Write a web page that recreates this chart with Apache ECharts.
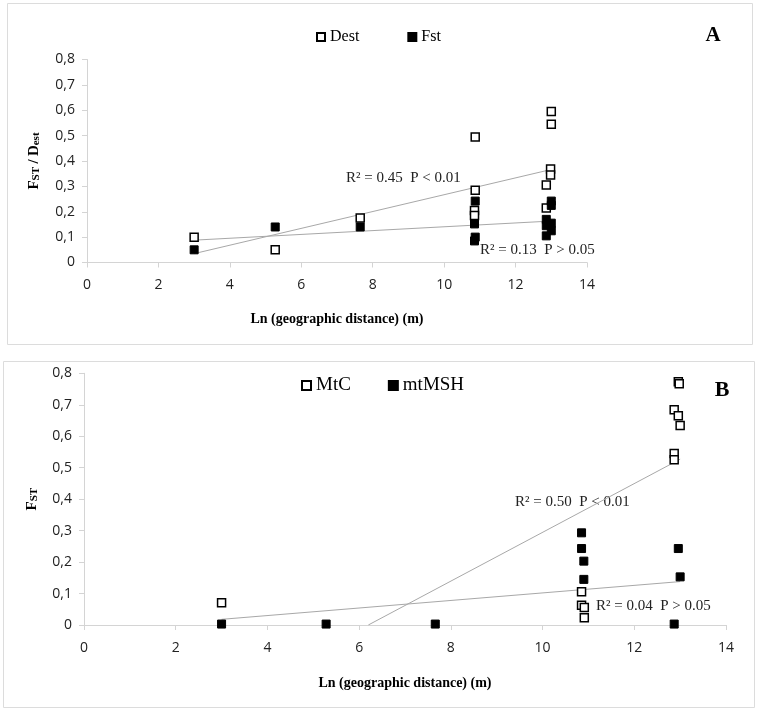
<!DOCTYPE html>
<html>
<head>
<meta charset="utf-8">
<script src="https://cdn.jsdelivr.net/npm/echarts@6/dist/echarts.min.js"></script>
<style>
html,body{margin:0;padding:0;background:#fff;}
#chart{width:760px;height:711px;}
</style>
</head>
<body>
<div id="chart"></div>
<script>
// ---------- Data ----------
// Panel A
const destA = [[3.0,0.10],[5.27,0.05],[7.65,0.175],[10.87,0.495],[10.87,0.285],[10.85,0.205],[10.85,0.185],
  [13.0,0.595],[13.0,0.545],[12.98,0.368],[12.98,0.345],[12.86,0.305],[12.86,0.215]];
const fstA = [[3.0,0.05],[5.27,0.14],[7.65,0.14],[10.87,0.242],[10.85,0.152],[10.87,0.10],[10.85,0.085],
  [13.0,0.242],[13.0,0.225],[12.86,0.17],[12.86,0.145],[12.86,0.105],[13.0,0.155],[13.0,0.125]];
const trendDestA = [[3.0,0.035],[12.95,0.365]];
const trendFstA = [[3.0,0.088],[12.95,0.163]];
// Panel B
const mtcB = [[3.0,0.071],[10.85,0.106],[10.85,0.063],[10.91,0.056],[10.91,0.023],
  [12.87,0.684],[12.87,0.545],[12.87,0.525],[12.96,0.773],[12.98,0.767],[12.96,0.665],[13.0,0.634]];
const mshB = [[3.0,0.003],[5.28,0.003],[7.66,0.003],[10.85,0.293],[10.85,0.243],[10.9,0.203],[10.9,0.145],
  [12.87,0.003],[12.96,0.243],[13.0,0.153]];
const trendMtcB = [[6.2,0],[13.0,0.527]];
const trendMshB = [[3.0,0.018],[13.0,0.138]];
// Axis ticks
const xTicks = {min:0, max:14, interval:2};
const yTicks = {min:0, max:0.8, interval:0.1};
// Annotations
const annA = ['R² = 0.45  P < 0.01', 'R² = 0.13  P > 0.05'];
const annB = ['R² = 0.50  P < 0.01', 'R² = 0.04  P > 0.05'];

// ---------- Chart ----------
const chart = echarts.init(document.getElementById('chart'), null, {renderer:'canvas'});
const serif = 'Liberation Serif, Times New Roman, serif';
const sans = 'Open Sans, sans-serif';
const axisGray = '#d4d4d4';
const trendGray = '#a8a8a8';

function xAxisCfg(gridIndex, gap){
  return {
    type:'value', gridIndex, min:xTicks.min, max:xTicks.max, interval:xTicks.interval,
    splitLine:{show:false},
    axisLine:{show:true, lineStyle:{color:axisGray, width:1}},
    axisTick:{show:true, length:5, lineStyle:{color:axisGray}},
    axisLabel:{margin:16, fontFamily:sans, fontSize:14, color:'#222'},
    name:'Ln (geographic distance) (m)', nameLocation:'middle', nameGap:gap,
    nameTextStyle:{fontFamily:serif, fontWeight:'bold', fontSize:14, color:'#000'}
  };
}
const richName = {
  a:{fontFamily:serif, fontWeight:'bold', fontSize:15, color:'#000', verticalAlign:'bottom', lineHeight:17},
  b:{fontFamily:serif, fontWeight:'bold', fontSize:11, color:'#000', verticalAlign:'bottom', lineHeight:17}
};
function yAxisCfg(gridIndex, name, gap){
  return {
    type:'value', gridIndex, min:yTicks.min, max:yTicks.max, interval:yTicks.interval,
    splitLine:{show:false},
    axisLine:{show:true, lineStyle:{color:axisGray, width:1}},
    axisTick:{show:true, length:5, lineStyle:{color:axisGray}},
    axisLabel:{margin:12, fontFamily:sans, fontSize:14, color:'#222',
      formatter:v => (Math.round(v*10)/10).toString().replace('.', ',')},
    name, nameLocation:'middle', nameGap:gap, nameRotate:90,
    nameTextStyle:{rich:richName}
  };
}
const openStyle = {color:'#fff', borderColor:'#000', borderWidth:1.5, opacity:1};
const fillStyle = {color:'#000', borderColor:'#000', borderWidth:1, opacity:1};

function scatter(name, data, idx, style, size){
  return {name, type:'scatter', xAxisIndex:idx, yAxisIndex:idx, data, symbol:'rect',
    symbolSize:size, itemStyle:style, z:3, emphasis:{disabled:true}};
}
function trend(name, data, idx){
  return {name, type:'line', xAxisIndex:idx, yAxisIndex:idx, data, symbol:'none',
    lineStyle:{color:trendGray, width:1}, z:2, silent:true, clip:true};
}
function ann(text, x, y){
  return {type:'text', x, y, style:{text, font:'15px ' + serif, fill:'#222', align:'left', verticalAlign:'middle'}};
}

chart.setOption({
  animation:false,
  backgroundColor:'#fff',
  grid:[
    {left:87, top:59.5, width:500, height:203},
    {left:84, top:373.3, width:642, height:251.7}
  ],
  xAxis:[xAxisCfg(0, 50), xAxisCfg(1, 51)],
  yAxis:[
    yAxisCfg(0, '{a|F}{b|ST} {a|/} {a|D}{b|est}', 45),
    yAxisCfg(1, '{a|F}{b|ST}', 44)
  ],
  legend:[
    {data:['Dest','Fst'], left:311, top:24, itemWidth:8, itemHeight:8, itemGap:48, icon:'rect',
     textStyle:{fontFamily:serif, fontSize:16, color:'#000'}},
    {data:['MtC','mtMSH'], left:296, top:371, itemWidth:9, itemHeight:9, itemGap:37, icon:'rect',
     textStyle:{fontFamily:serif, fontSize:19, color:'#000'}}
  ],
  series:[
    trend('trendDestA', trendDestA, 0),
    trend('trendFstA', trendFstA, 0),
    scatter('Dest', destA, 0, openStyle, 8),
    scatter('Fst', fstA, 0, fillStyle, 8),
    trend('trendMtcB', trendMtcB, 1),
    trend('trendMshB', trendMshB, 1),
    scatter('MtC', mtcB, 1, openStyle, 8),
    scatter('mtMSH', mshB, 1, fillStyle, 8)
  ],
  graphic:[
    {type:'rect', shape:{x:7.5, y:3.5, width:745, height:341}, style:{fill:'none', stroke:'#dcdcdc', lineWidth:1}, silent:true},
    {type:'rect', shape:{x:3.5, y:361.5, width:751, height:346}, style:{fill:'none', stroke:'#dcdcdc', lineWidth:1}, silent:true},
    {type:'text', x:713, y:36, style:{text:'A', font:'bold 21px ' + serif, fill:'#000', align:'center', verticalAlign:'middle'}},
    {type:'text', x:722, y:390, style:{text:'B', font:'bold 22px ' + serif, fill:'#000', align:'center', verticalAlign:'middle'}},
    ann(annA[0], 346, 178),
    ann(annA[1], 480, 250),
    ann(annB[0], 515, 502),
    ann(annB[1], 596, 606)
  ]
});
</script>
</body>
</html>
